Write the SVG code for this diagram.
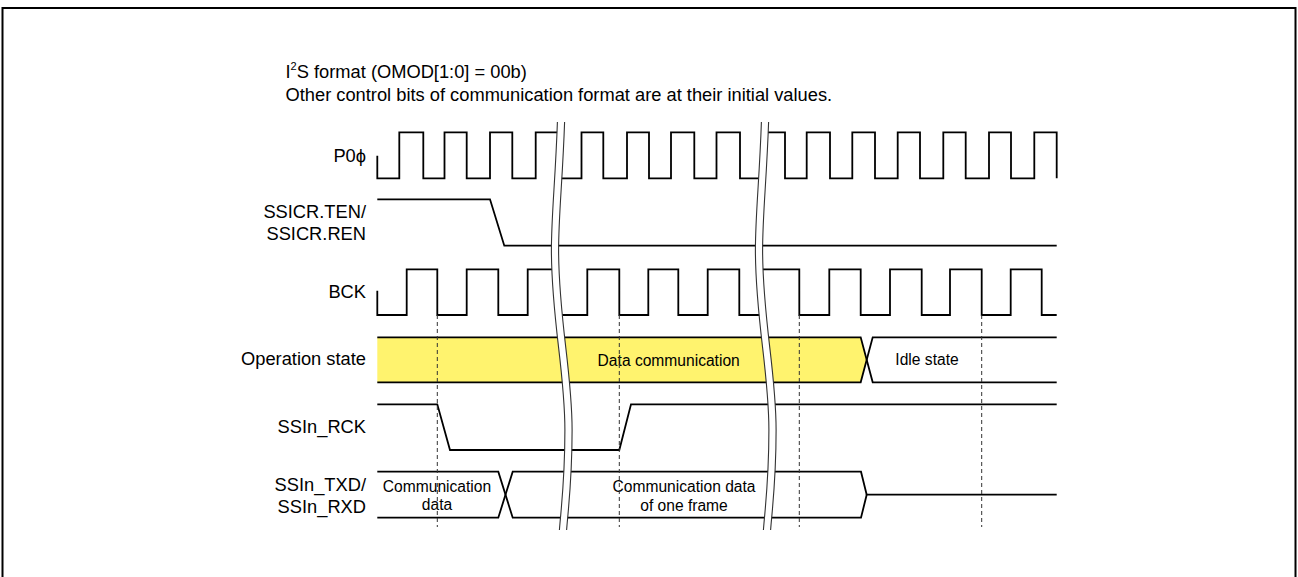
<svg xmlns="http://www.w3.org/2000/svg" xmlns:xlink="http://www.w3.org/1999/xlink" width="1298" height="577" viewBox="0 0 1298 577">
  <style>
    text { font-family: "Liberation Sans", Arial, sans-serif; fill: #000; }
    .lbl { font-size: 18.3px; text-anchor: end; }
    .ttl { font-size: 18.3px; }
    .in { font-size: 15.6px; text-anchor: middle; }
    .wave { fill: none; stroke: #000; stroke-width: 1.8; stroke-linejoin: miter; stroke-linecap: butt; }
    .dash { fill: none; stroke: #333; stroke-width: 1; stroke-dasharray: 4 3; }
    .brkband { fill: none; stroke: #fff; stroke-width: 7; }
    .brkline { fill: none; stroke: #333; stroke-width: 1.1; }
  </style>
  <defs>
    <path id="brk" d="M561 122 C559 180 555 215 555 250 C555 320 568.5 370 568.5 430 C568.5 480 565 505 563 530"/>
  </defs>

  <rect x="2.5" y="8" width="1293" height="620" fill="#fff" stroke="#000" stroke-width="2"/>

  <g id="title">
    <text class="ttl" x="285.5" y="77.5">I<tspan font-size="11" dy="-8">2</tspan><tspan dy="8">S format (OMOD[1:0] = 00b)</tspan></text>
    <text class="ttl" x="285.5" y="100.5">Other control bits of communication format are at their initial values.</text>
  </g>

  <g id="labels">
    <text class="lbl" x="366" y="161.5">P0ϕ</text>
    <text class="lbl" x="366" y="218.3">SSICR.TEN/</text>
    <text class="lbl" x="366" y="240.3">SSICR.REN</text>
    <text class="lbl" x="366" y="297.6">BCK</text>
    <text class="lbl" x="366" y="365.4">Operation state</text>
    <text class="lbl" x="366" y="433.4">SSIn_RCK</text>
    <text class="lbl" x="366" y="490.7">SSIn_TXD/</text>
    <text class="lbl" x="366" y="512.8">SSIn_RXD</text>
  </g>

  <g id="sig-p0phi">
    <path class="wave" d="M377.3 155.7 V178.3 H399.3 V132.3 H423.3 V178.3 H444.5 V132.3 H466.7 V178.3 H490 V132.3 H512.3 V178.3 H535.7 V132.3 H560.6 L558.3 178.3 H581.5 V132.3 H603.3 V178.3 H627 V132.3 H649 V178.3 H671 V132.3 H694.3 V178.3 H716.5 V132.3 H740 V178.3 H762.3 L764.6 132.3 H785 V178.3 H806.7 V132.3 H830 V178.3 H852.3 V132.3 H875 V178.3 H897.7 V132.3 H920 V178.3 H943.3 V132.3 H965.7 V178.3 H989 V132.3 H1011 V178.3 H1034.3 V132.3 H1056.7 V178.3"/>
  </g>

  <g id="sig-ssicr">
    <path class="wave" d="M377.3 199.3 H490 L504.3 245.7 H1056.7"/>
  </g>

  <g id="sig-bck">
    <path class="wave" d="M377.3 290.7 V315 H406.7 V269.3 H437.3 V315 H466.7 V269.3 H498.3 V315 H527.7 V269.3 H555.3 L558.5 315 H587.3 V269.3 H619.3 V315 H648.3 V269.3 H678.3 V315 H707.7 V269.3 H739.3 V315 H762.5 L759.3 269.3 H799.3 V315 H829.3 V269.3 H860.7 V315 H890 V269.3 H921.7 V315 H950 V269.3 H981.7 V315 H1010.7 V269.3 H1041.7 V315 H1056.7"/>
  </g>

  <g id="sig-opstate">
    <polygon points="377.3,337.3 860.7,337.3 866.7,359.8 860.7,382.3 377.3,382.3" fill="#FFF36E"/>
    <path class="wave" d="M377.3 337.3 H860.7 L872.7 382.3 H1056.7"/>
    <path class="wave" d="M377.3 382.3 H860.7 L872.7 337.3 H1056.7"/>
    <text class="in" x="668.7" y="365.6">Data communication</text>
    <text class="in" x="927" y="365.4">Idle state</text>
  </g>

  <g id="sig-rck">
    <path class="wave" d="M377.3 404.3 H437.3 L450 450 H619.3 L631 404.3 H1056.7"/>
  </g>

  <g id="sig-txd">
    <path class="wave" d="M377.3 471.7 H498.3 L512.7 517.7 H861 L866.7 494.7 H1056.7"/>
    <path class="wave" d="M377.3 517.7 H498.3 L512.7 471.7 H861 L866.7 494.7"/>
    <text class="in" x="437" y="492.3">Communication</text>
    <text class="in" x="437" y="510.2">data</text>
    <text class="in" x="684" y="492.3">Communication data</text>
    <text class="in" x="684" y="510.6">of one frame</text>
  </g>

  <g id="connectors">
    <path class="dash" d="M437.3 315 V527 M619.3 315 V527 M799.3 315 V527 M981.7 315 V527"/>
    <g id="break1">
      <use xlink:href="#brk" class="brkband"/>
      <use xlink:href="#brk" class="brkline" transform="translate(-3.6,0)"/>
      <use xlink:href="#brk" class="brkline" transform="translate(3.6,0)"/>
    </g>
    <g id="break2" transform="translate(204,0)">
      <use xlink:href="#brk" class="brkband"/>
      <use xlink:href="#brk" class="brkline" transform="translate(-3.6,0)"/>
      <use xlink:href="#brk" class="brkline" transform="translate(3.6,0)"/>
    </g>
  </g>
</svg>
